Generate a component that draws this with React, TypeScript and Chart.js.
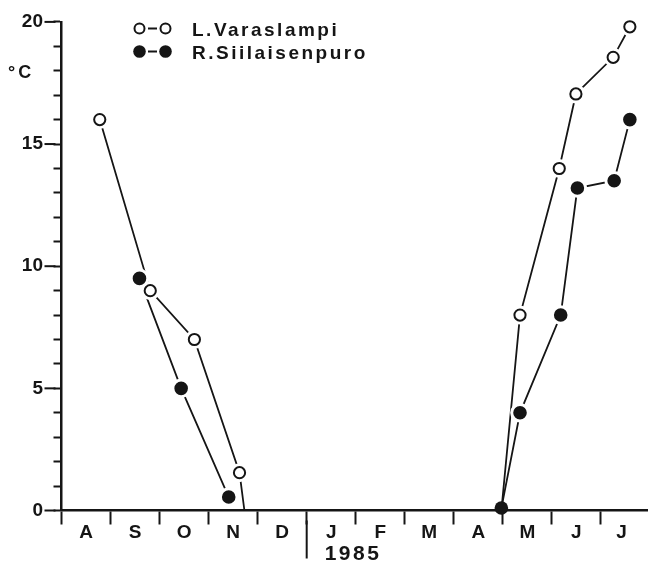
import React, { useEffect, useRef } from "react";
import { Chart, registerables } from "chart.js";

Chart.register(...registerables);

// ---- data ----
const SERIES_NAMES = ["L.Varaslampi", "R.Siilaisenpuro"];
const MONTH_LABELS = ["A", "S", "O", "N", "D", "J", "F", "M", "A", "M", "J", "J"];
const MONTH_LABEL_POS = [0.5, 1.5, 2.5, 3.5, 4.5, 5.5, 6.5, 7.5, 8.5, 9.5, 10.5, 11.42];
const MONTH_BOUNDARIES = [0, 1, 2, 3, 4, 5, 6, 7, 8, 9, 10, 11];
const YEAR_LABEL = "1985";
const YEAR_START = 5;
const Y_LABEL = "°C";
const Y_MIN = 0;
const Y_MAX = 20;
const Y_MAJOR = 5;
const X_MAX = 11.96;

// months since 1 Aug 1984; null temp = break in the line
const OPEN_MONTHS = [0.78, 1.81, 2.71, 3.63, 3.73, 6.0, 8.97, 9.35, 10.15, 10.49, 11.25, 11.59];
const OPEN_TEMPS = [16.0, 9.0, 7.0, 1.55, 0, null, 0, 8.0, 14.0, 17.05, 18.55, 19.8];
const OPEN_MARKED = [true, true, true, true, false, false, false, true, true, true, true, true];

const FILLED_MONTHS = [1.59, 2.44, 3.41, 6.0, 8.97, 9.35, 10.18, 10.52, 11.27, 11.59];
const FILLED_TEMPS = [9.5, 5.0, 0.55, null, 0.1, 4.0, 8.0, 13.2, 13.5, 16.0];

const INK = "#151515";
const FONT = "'Liberation Sans', Arial, sans-serif";

const openLine = OPEN_MONTHS.map((m, i) => ({ x: m, y: OPEN_TEMPS[i] }));
const openMarks = OPEN_MONTHS.map((m, i) => ({ x: m, y: OPEN_TEMPS[i] })).filter((_, i) => OPEN_MARKED[i]);
const filledLine = FILLED_MONTHS.map((m, i) => ({ x: m, y: FILLED_TEMPS[i] }));
const filledMarks = filledLine.filter((p) => p.y !== null);

const decorPlugin = {
  id: "decor",
  afterDraw(chart: any) {
    const ctx = chart.ctx as CanvasRenderingContext2D;
    const xs = chart.scales.x;
    const ys = chart.scales.y;
    const { left, bottom } = chart.chartArea;
    ctx.save();
    ctx.strokeStyle = INK;
    ctx.fillStyle = INK;
    ctx.lineWidth = 2;
    // longer major ticks on y axis
    for (let v = Y_MIN; v <= Y_MAX; v += Y_MAJOR) {
      const py = ys.getPixelForValue(v);
      ctx.beginPath();
      ctx.moveTo(left - 17, py);
      ctx.lineTo(left - 6, py);
      ctx.stroke();
    }
    // year boundary tick
    const px = xs.getPixelForValue(YEAR_START);
    ctx.beginPath();
    ctx.moveTo(px, bottom + 10);
    ctx.lineTo(px, bottom + 48);
    ctx.stroke();
    (ctx as any).letterSpacing = "2.5px";
    ctx.font = `bold 21px ${FONT}`;
    ctx.textAlign = "left";
    ctx.textBaseline = "alphabetic";
    ctx.fillText(YEAR_LABEL, px + 18, bottom + 49.5);
    // unit
    (ctx as any).letterSpacing = "3px";
    ctx.font = `bold 18px ${FONT}`;
    ctx.fillText(Y_LABEL, 8, 78);
    // legend
    const rows = [
      { y: 28.5, filled: false, name: SERIES_NAMES[0], base: 36 },
      { y: 51.5, filled: true, name: SERIES_NAMES[1], base: 58.5 },
    ];
    for (const r of rows) {
      ctx.lineWidth = 2;
      ctx.beginPath();
      ctx.moveTo(148, r.y);
      ctx.lineTo(157, r.y);
      ctx.stroke();
      for (const cx of [139.5, 165.5]) {
        ctx.beginPath();
        if (r.filled) {
          ctx.arc(cx, r.y, 6.3, 0, Math.PI * 2);
          ctx.fill();
        } else {
          ctx.arc(cx, r.y, 5, 0, Math.PI * 2);
          ctx.fillStyle = "#fff";
          ctx.fill();
          ctx.fillStyle = INK;
          ctx.stroke();
        }
      }
      (ctx as any).letterSpacing = "2.5px";
      ctx.font = `bold 19px ${FONT}`;
      ctx.fillText(r.name, 192, r.base);
    }
    ctx.restore();
  },
};

export default function App() {
  const ref = useRef<HTMLCanvasElement | null>(null);
  useEffect(() => {
    if (!ref.current) return;
    const isZero = (c: any) => c.raw && c.raw.y !== null && c.raw.y < 0.3;
    const chart = new Chart(ref.current, {
      type: "line",
      data: {
        datasets: [
          {
            label: SERIES_NAMES[1] + " markers",
            data: filledMarks,
            showLine: false,
            pointRadius: (c: any) => (isZero(c) ? 6.8 : 8.3),
            pointBorderWidth: (c: any) => (isZero(c) ? 0 : 3),
            pointBackgroundColor: INK,
            pointBorderColor: "#ffffff",
            clip: false,
          } as any,
          {
            label: SERIES_NAMES[0] + " markers",
            data: openMarks,
            showLine: false,
            pointRadius: 5.6,
            pointBorderWidth: 2,
            pointBackgroundColor: "#ffffff",
            pointBorderColor: INK,
            clip: false,
          },
          {
            label: SERIES_NAMES[0] + " halo",
            data: openMarks,
            showLine: false,
            pointRadius: 9.5,
            pointBorderWidth: 0,
            pointBackgroundColor: "#ffffff",
            pointBorderColor: "#ffffff",
            clip: false,
          },
          {
            label: SERIES_NAMES[0],
            data: openLine,
            borderColor: INK,
            borderWidth: 1.8,
            pointRadius: 0,
            tension: 0,
            spanGaps: false,
            clip: false,
          },
          {
            label: SERIES_NAMES[1],
            data: filledLine,
            borderColor: INK,
            borderWidth: 1.8,
            pointRadius: 0,
            tension: 0,
            spanGaps: false,
            clip: false,
          },
        ],
      },
      options: {
        animation: false,
        responsive: false,
        events: [],
        layout: { autoPadding: false, padding: { top: 21, left: 0, right: 0, bottom: 0 } },
        plugins: { legend: { display: false }, tooltip: { enabled: false } },
        scales: {
          x: {
            type: "linear",
            min: 0,
            max: X_MAX,
            afterFit: (s: any) => {
              s.height = 50.5;
              s.paddingLeft = 0;
              s.paddingRight = 0;
            },
            afterBuildTicks: (s: any) => {
              s.ticks = [...MONTH_BOUNDARIES, ...MONTH_LABEL_POS]
                .sort((a, b) => a - b)
                .map((v) => ({ value: v }));
            },
            ticks: {
              autoSkip: false,
              maxRotation: 0,
              padding: -3,
              color: INK,
              font: { family: FONT, size: 19, weight: "bold" },
              callback: (v: any) => {
                const i = MONTH_LABEL_POS.indexOf(Number(v));
                return i >= 0 ? MONTH_LABELS[i] : "";
              },
            },
            grid: {
              drawOnChartArea: false,
              tickLength: 14,
              tickWidth: 2,
              tickColor: (c: any) =>
                c.tick && Number.isInteger(c.tick.value) ? INK : "rgba(0,0,0,0)",
            },
            border: { color: INK, width: 2.5 },
          },
          y: {
            type: "linear",
            min: Y_MIN,
            max: Y_MAX,
            afterFit: (s: any) => {
              s.width = 61.5;
            },
            ticks: {
              stepSize: 1,
              autoSkip: false,
              padding: 10.5,
              color: INK,
              font: { family: FONT, size: 19, weight: "bold" },
              callback: (v: any) => (Number(v) % Y_MAJOR === 0 ? String(v) : ""),
            },
            grid: {
              drawOnChartArea: false,
              tickLength: 8,
              tickWidth: 2,
              tickColor: INK,
            },
            border: { color: INK, width: 2.5 },
          },
        },
      } as any,
      plugins: [decorPlugin],
    });
    return () => chart.destroy();
  }, []);
  return (
    <div style={{ position: "absolute", left: 0, top: 0, width: 648, height: 561, background: "#fff" }}>
      <canvas ref={ref} width={648} height={561} style={{ display: "block" }} />
    </div>
  );
}
